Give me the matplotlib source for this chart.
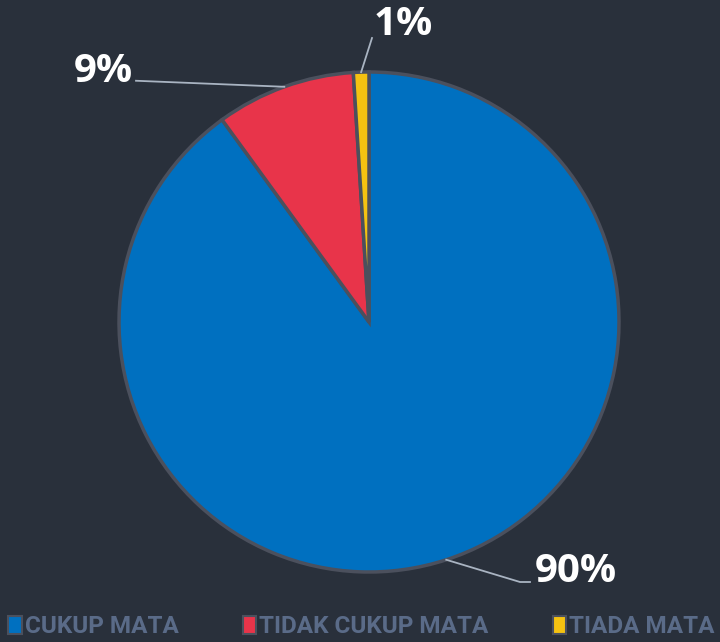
import numpy as np
import matplotlib
matplotlib.use("Agg")
import matplotlib.pyplot as plt
from matplotlib.patches import Patch

categories = ["CUKUP MATA", "TIDAK CUKUP MATA", "TIADA MATA"]
values = [90, 9, 1]
colors = ["#0070c0", "#e8344a", "#f5c211"]

bg = "#29303b"
edge = "#4b505d"

fig = plt.figure(figsize=(7.2, 6.42), dpi=100, facecolor=bg)
# pie box: 500x500 px, centre at (369, 322)
ax = fig.add_axes([119 / 720, 70 / 642, 500 / 720, 500 / 642])
ax.set_facecolor(bg)

wedges, _ = ax.pie(values, colors=colors, startangle=90, counterclock=False,
                   radius=1, wedgeprops=dict(edgecolor=edge, linewidth=2.5))
ax.set_xlim(-1, 1)
ax.set_ylim(-1, 1)
ax.set_aspect("equal")
ax.axis("off")

total = sum(values)
lab_font = dict(color="white", fontsize=29, fontweight="bold", family="Open Sans")
line_kw = dict(color="#a9b4c2", lw=1.3, clip_on=False)

# leader lines and labels, anchored at the middle of each wedge
mids = []
start = 90.0
for v in values:
    sweep = 360.0 * v / total
    mids.append(np.deg2rad(start - sweep / 2))
    start -= sweep

# 90%
a = mids[0]
p = (np.cos(a), np.sin(a))
ax.plot([p[0], 0.604, 0.644], [p[1], -1.04, -1.04], **line_kw)
ax.text(0.662, -1.0, f"{values[0]}%", ha="left", va="center", **lab_font)

# 9%
a = mids[1]
p = (np.cos(a), np.sin(a))
ax.plot([p[0], -0.932], [p[1], 0.965], **line_kw)
ax.text(-0.945, 1.0, f"{values[1]}%", ha="right", va="center", **lab_font)

# 1%
a = mids[2]
p = (np.cos(a), np.sin(a))
ax.plot([p[0], 0.012], [p[1], 1.136], **line_kw)
ax.text(0.02, 1.19, f"{values[2]}%", ha="left", va="center", **lab_font)

handles = [Patch(facecolor=c, edgecolor="#4b505d", linewidth=1.5) for c in colors]
leg = fig.legend(handles, categories, loc="lower center", ncol=3,
                 bbox_to_anchor=(0.502, -0.028), frameon=False,
                 handlelength=0.55, handleheight=0.75, handletextpad=0.12,
                 columnspacing=2.65,
                 prop=dict(family="Roboto", weight="bold", size=17.5))
for t in leg.get_texts():
    t.set_color("#5a6b88")

fig.savefig("out.png", dpi=100, facecolor=bg)
